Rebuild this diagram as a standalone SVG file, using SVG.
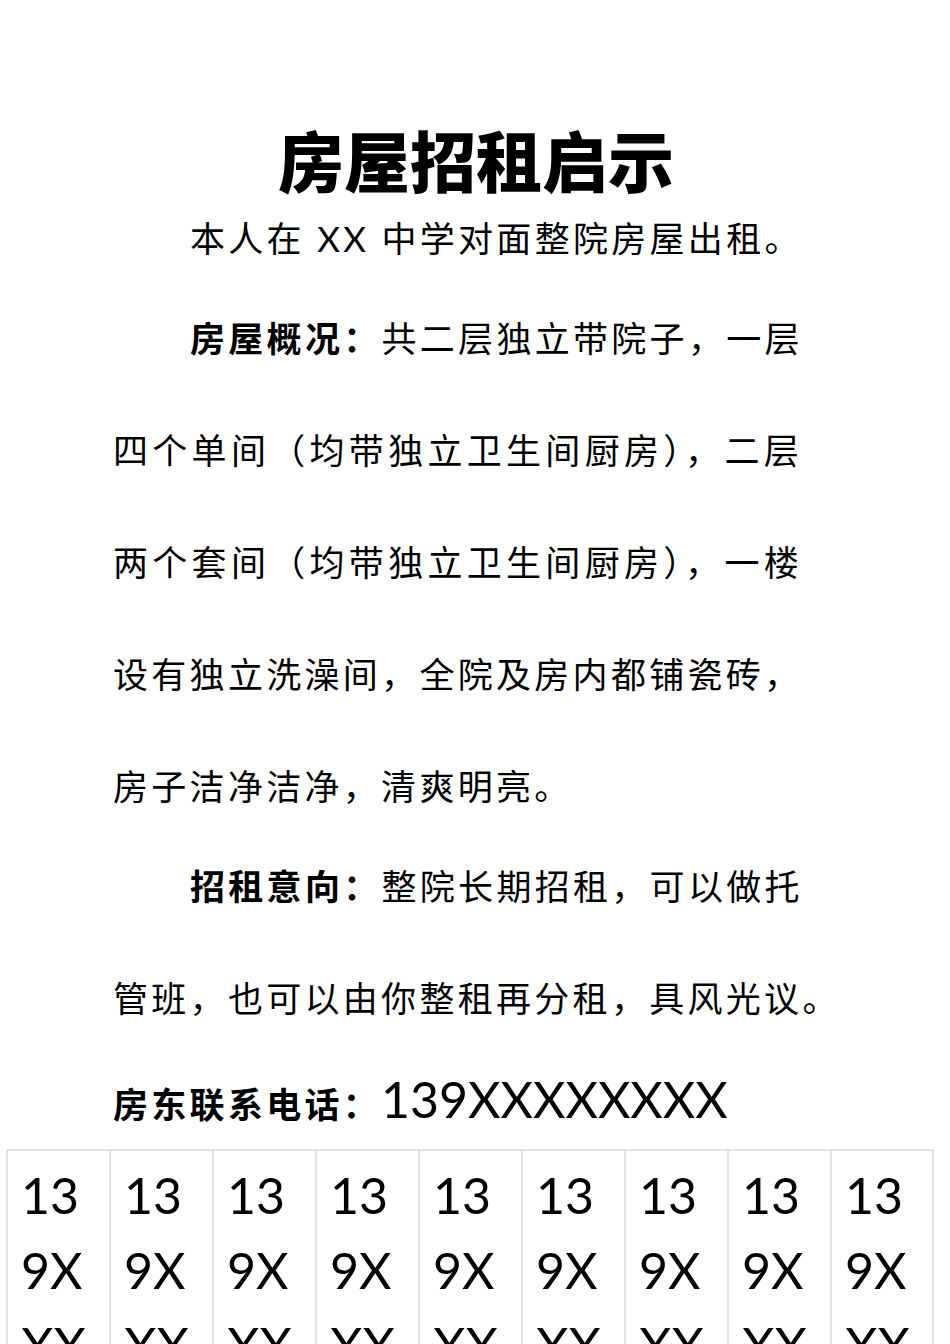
<svg xmlns="http://www.w3.org/2000/svg" width="950" height="1344" viewBox="0 0 950 1344">
<style>
.t{font-family:"Lato","Noto Sans CJK SC",sans-serif;font-size:35px;letter-spacing:3.3px;fill:#000}
.b{font-weight:bold}
.n{font-family:"Lato","Noto Sans CJK SC",sans-serif;font-size:50px;fill:#000}
.c{fill:#fff;stroke:#c8c8c8;stroke-width:1}
</style>
<rect width="950" height="1344" fill="#fff"/>
<g id="title"><text x="476" y="187" text-anchor="middle" style="font-family:'Noto Sans CJK SC',sans-serif;font-weight:900;font-size:66px">房屋招租启示</text></g>
<g id="body">
<text class="t" x="190" y="252">本人在 XX 中学对面整院房屋出租。</text>
<text class="t" x="190" y="352"><tspan class="b">房屋概况：</tspan>共二层独立带院子，一层</text>
<text class="t" x="113" y="464" textLength="689" lengthAdjust="spacing">四个单间（均带独立卫生间厨房），二层</text>
<text class="t" x="113" y="576" textLength="689" lengthAdjust="spacing">两个套间（均带独立卫生间厨房），一楼</text>
<text class="t" x="113" y="688">设有独立洗澡间，全院及房内都铺瓷砖，</text>
<text class="t" x="113" y="800">房子洁净洁净，清爽明亮。</text>
<text class="t" x="190" y="900"><tspan class="b">招租意向：</tspan>整院长期招租，可以做托</text>
<text class="t" x="113" y="1012">管班，也可以由你整租再分租，具风光议。</text>
<text class="t" x="113" y="1118"><tspan class="b">房东联系电话：</tspan><tspan style="font-size:50px;letter-spacing:0">139XXXXXXXX</tspan></text>
</g>
<g id="table">
<rect class="c" x="7" y="1150" width="926" height="220"/>
<g stroke="#c8c8c8"><line x1="110" y1="1150" x2="110" y2="1344"/><line x1="213" y1="1150" x2="213" y2="1344"/><line x1="316" y1="1150" x2="316" y2="1344"/><line x1="419" y1="1150" x2="419" y2="1344"/><line x1="522" y1="1150" x2="522" y2="1344"/><line x1="625" y1="1150" x2="625" y2="1344"/><line x1="728" y1="1150" x2="728" y2="1344"/><line x1="831" y1="1150" x2="831" y2="1344"/></g>
<g class="n">
<text x="21" y="1214">13</text><text x="21" y="1289">9X</text><text x="21" y="1364">XX</text>
<text x="124" y="1214">13</text><text x="124" y="1289">9X</text><text x="124" y="1364">XX</text>
<text x="227" y="1214">13</text><text x="227" y="1289">9X</text><text x="227" y="1364">XX</text>
<text x="330" y="1214">13</text><text x="330" y="1289">9X</text><text x="330" y="1364">XX</text>
<text x="433" y="1214">13</text><text x="433" y="1289">9X</text><text x="433" y="1364">XX</text>
<text x="536" y="1214">13</text><text x="536" y="1289">9X</text><text x="536" y="1364">XX</text>
<text x="639" y="1214">13</text><text x="639" y="1289">9X</text><text x="639" y="1364">XX</text>
<text x="742" y="1214">13</text><text x="742" y="1289">9X</text><text x="742" y="1364">XX</text>
<text x="845" y="1214">13</text><text x="845" y="1289">9X</text><text x="845" y="1364">XX</text>
</g>
</g>
</svg>
